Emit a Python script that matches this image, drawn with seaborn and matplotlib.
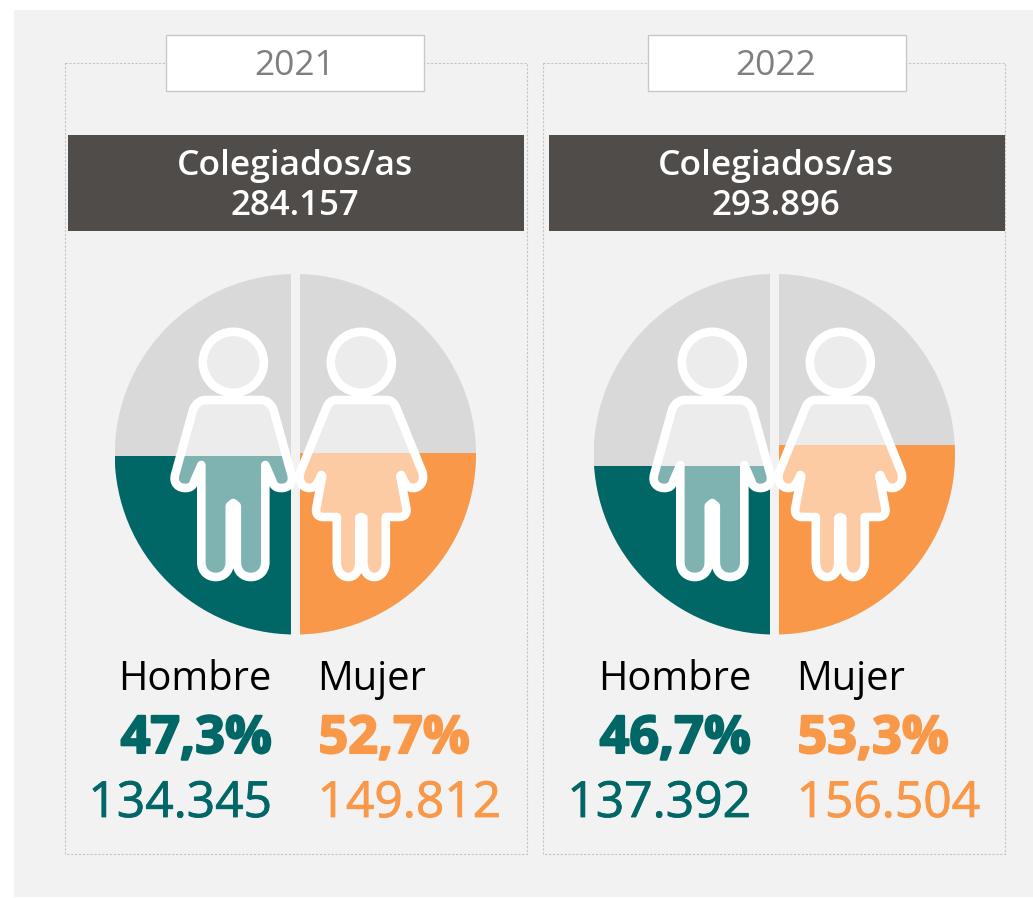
import matplotlib
matplotlib.use('Agg')
import matplotlib.pyplot as plt
import matplotlib.patheffects as pe
import pandas as pd
import seaborn as sns
from matplotlib.patches import Rectangle, Circle, Ellipse, PathPatch
from matplotlib.path import Path

years = ['2021', '2022']
totals = ['284.157', '293.896']
sexes = ['Hombre', 'Mujer']
pct_hombre = ['47,3%', '46,7%']
pct_mujer = ['52,7%', '53,3%']
num_hombre = ['134.345', '137.392']
num_mujer = ['149.812', '156.504']
# height of the coloured fill, % of the circle
fill_hombre = [49.5, 46.7]
fill_mujer = [50.3, 52.6]

TEAL = '#006766'
ORANGE = '#F99848'
GREY = '#D9D9D9'
BG = '#F2F2F2'
DARK = '#504C4A'
W, H = 1033, 898
FONT = 'Open Sans'


def px_axes(fig, x0, y0, x1, y1):
    return fig.add_axes([x0 / W, 1 - y1 / H, (x1 - x0) / W, (y1 - y0) / H])


def mirrored(right):
    # right is a half outline (dx, y), top to bottom, curves as 3 points
    verts = [(dx, y) for dx, y, c in right]
    codes = [c for dx, y, c in right]
    back_v = [(-dx, y) for dx, y in reversed(verts[:-1])]
    back_c = list(reversed(codes[1:]))
    return Path(verts + back_v, codes + back_c)


L, C = Path.LINETO, Path.CURVE4
MAN = mirrored([
    (0, 140, Path.MOVETO), (27, 140, L),
    (33, 140, C), (37, 143, C), (40, 149, C),
    (58, 214, L),
    (61, 224, C), (54, 228, C), (48, 228, C),
    (43, 228, C), (40, 226, C), (39, 221, C),
    (32, 205, L), (32, 302, L),
    (32, 312, C), (25, 317, C), (17.5, 317, C),
    (10, 317, C), (3.5, 312, C), (3.5, 302, C),
    (3.5, 246, L), (0, 243, L),
])
WOMAN = mirrored([
    (0, 140, Path.MOVETO), (25, 140, L),
    (30, 140, C), (33, 143, C), (35, 148, C),
    (61, 212, L),
    (64, 222, C), (58, 228, C), (52, 228, C),
    (47, 228, C), (44, 225, C), (40, 215, C),
    (39, 216, L), (45, 248, L),
    (46, 254, C), (43, 257, C), (38, 257, C),
    (24.5, 257, L), (24.5, 302, L),
    (24.5, 312, C), (19, 317, C), (13, 317, C),
    (7, 317, C), (2, 312, C), (2, 302, C),
    (2, 258, L), (0, 257, L),
])


def draw_person(ax, shape, cx, head_y, base_y):
    path = Path(shape.vertices + [cx, base_y], shape.codes)
    ax.add_patch(PathPatch(path, fc='white', ec='none', alpha=0.5, zorder=3))
    ax.add_patch(Circle((cx, head_y), 30.5, fc='white', ec='none', alpha=0.5, zorder=3))
    ax.add_patch(PathPatch(path, fc='none', ec='white', lw=6.2, joinstyle='round', zorder=4))
    ax.add_patch(Circle((cx, head_y), 30.5, fc='none', ec='white', lw=6.2, zorder=4))


def thick(color, width):
    return [pe.withStroke(linewidth=width, foreground=color)]


sns.set_theme(style='white')
plt.rcParams['font.family'] = [FONT, 'DejaVu Sans']

fig = plt.figure(figsize=(W / 100, H / 100), dpi=100, facecolor='white')
bg = px_axes(fig, 0, 0, W, H)
bg.set_xlim(0, W)
bg.set_ylim(H, 0)
bg.axis('off')
bg.add_patch(Rectangle((14, 10), W - 14, 887, fc=BG, ec='none'))

for i, year in enumerate(years):
    dx = 479 * i
    df = pd.DataFrame({'sexo': sexes, 'fill': [fill_hombre[i], fill_mujer[i]], 'full': [100, 100]})

    # dashed frame, year box and dark header
    bg.add_patch(Rectangle((64.5 + 478 * i, 62.5), 462, 791, fc='none', ec='#C4C4C4', lw=0.8, ls=(0, (2, 1.5))))
    bg.add_patch(Rectangle((166 + 481.5 * i, 34.5), 258, 56, fc='white', ec='#C8C8C8', lw=1, zorder=2))
    bg.text(294.5 + 481.5 * i, 75, year, ha='center', va='baseline', color='#7F7F7F', fontsize=25.5, zorder=3)
    bg.add_patch(Rectangle((68 + 481 * i, 135), 456, 96, fc=DARK, ec='none'))
    bg.text(295 + 481 * i, 175, 'Colegiados/as', ha='center', va='baseline', color='white', fontsize=25.5, fontweight='semibold')
    bg.text(295 + 481 * i, 215, totals[i], ha='center', va='baseline', color='white', fontsize=25, fontweight='semibold')

    # the circle: two bars side by side, clipped by an ellipse in axes coords
    ax = px_axes(fig, 114.7 + dx, 274, 476 + dx, 634.5)
    ax.patch.set_alpha(0)
    sns.barplot(data=df, x='sexo', y='full', color=GREY, saturation=1, width=1, linewidth=0, ax=ax)
    sns.barplot(data=df, x='sexo', y='fill', hue='sexo', palette=[TEAL, ORANGE], saturation=1,
                width=1, linewidth=0, legend=False, ax=ax)
    ax.set_xlim(-0.5, 1.5)
    ax.set_ylim(0, 100)
    ax.axis('off')
    clip = Ellipse((0.5, 0.5), 1, 1, transform=ax.transAxes)
    for bar in ax.patches:
        bar.set_clip_path(clip)
    ax.axvline(0.5, color=BG, lw=6.5)

    over = px_axes(fig, 0, 0, W, H)
    over.set_xlim(0, W)
    over.set_ylim(H, 0)
    over.axis('off')
    over.patch.set_alpha(0)
    draw_person(over, MAN, 233.3 + dx, 362.3, 260)
    draw_person(over, WOMAN, 361.3 + dx, 362.3, 260)

    # labels under the circle
    rx, lx = 272 + dx, 317.5 + dx
    over.text(rx, 690, sexes[0], ha='right', va='baseline', color='black', fontsize=28.7)
    over.text(lx, 690, sexes[1], ha='left', va='baseline', color='black', fontsize=28.7)
    over.text(rx, 753, pct_hombre[i], ha='right', va='baseline', color=TEAL, fontsize=37.5, fontweight='bold',
              path_effects=thick(TEAL, 1.5))
    over.text(lx + 1, 753, pct_mujer[i], ha='left', va='baseline', color=ORANGE, fontsize=37.5, fontweight='bold',
              path_effects=thick(ORANGE, 1.5))
    over.text(rx, 817, num_hombre[i], ha='right', va='baseline', color=TEAL, fontsize=35.8, fontweight=500,
              path_effects=thick(TEAL, 0.6))
    over.text(lx, 817, num_mujer[i], ha='left', va='baseline', color=ORANGE, fontsize=35.8, fontweight=500,
              path_effects=thick(ORANGE, 0.6))

fig.savefig('out.png', dpi=100)
